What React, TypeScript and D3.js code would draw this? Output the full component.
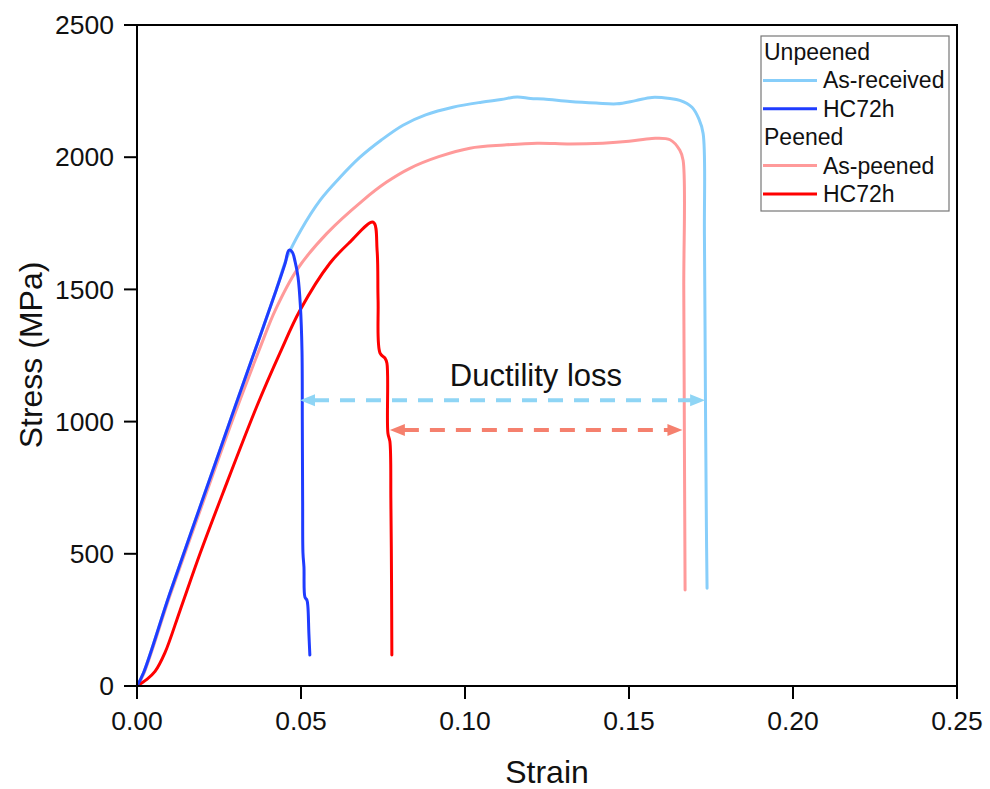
import React from 'react';
import * as d3 from 'd3';

// strain, stress (MPa)
const asReceived: [number, number][] = [
  [0, 0], [0.002, 50], [0.01, 350], [0.02, 705], [0.03, 1060], [0.038, 1340],
  [0.0425, 1500], [0.0457, 1620], [0.05, 1725], [0.0558, 1837], [0.062, 1925],
  [0.068, 2000], [0.0745, 2065], [0.0811, 2121], [0.088, 2160], [0.0963, 2189],
  [0.105, 2208], [0.111, 2218], [0.1159, 2228], [0.12, 2222], [0.124, 2220],
  [0.132, 2211], [0.14, 2205], [0.1463, 2202], [0.152, 2214], [0.157, 2226],
  [0.1625, 2222], [0.1655, 2215], [0.1692, 2189], [0.1713, 2145], [0.1726, 2090],
  [0.173, 1700], [0.1733, 1100], [0.1736, 600], [0.1738, 370],
];

const unpeenedHC: [number, number][] = [
  [0, 0], [0.002, 50], [0.01, 350], [0.02, 705], [0.03, 1060], [0.038, 1340],
  [0.0425, 1500], [0.0452, 1600], [0.0463, 1648], [0.0473, 1642], [0.0482, 1605],
  [0.0491, 1546], [0.0498, 1440], [0.0503, 1270], [0.0504, 1000], [0.0505, 700],
  [0.0506, 503], [0.0509, 450], [0.0512, 336], [0.0518, 325], [0.0521, 300],
  [0.0524, 200], [0.0527, 117],
];

const asPeened: [number, number][] = [
  [0, 0], [0.002, 45], [0.01, 340], [0.02, 690], [0.03, 1035], [0.038, 1295],
  [0.0421, 1420], [0.0488, 1575], [0.0579, 1712], [0.0689, 1837], [0.076, 1905],
  [0.0832, 1958], [0.092, 2002], [0.1015, 2034], [0.112, 2046], [0.122, 2053],
  [0.132, 2050], [0.142, 2053], [0.15, 2060], [0.157, 2071], [0.1625, 2066],
  [0.1655, 2026], [0.1665, 1988], [0.1667, 1500], [0.1669, 900], [0.1671, 363],
];

const peenedHC: [number, number][] = [
  [0, 0], [0.003, 25], [0.0055, 55], [0.0085, 125], [0.0131, 285], [0.0192, 500],
  [0.0262, 730], [0.0366, 1060], [0.0436, 1260], [0.0497, 1421], [0.0588, 1599],
  [0.065, 1680], [0.072, 1754], [0.0732, 1648], [0.0735, 1459], [0.0741, 1259],
  [0.0756, 1240], [0.0762, 1221], [0.0765, 956], [0.0771, 925], [0.0774, 703],
  [0.0776, 400], [0.0777, 117],
];

const xTicks = [0, 0.05, 0.1, 0.15, 0.2, 0.25];
const yTicks = [0, 500, 1000, 1500, 2000, 2500];

// ductility-loss arrows: [from strain, to strain, stress level]
const arrowUnpeened = [0.0497, 0.1732, 1081];
const arrowPeened = [0.0771, 0.1663, 968];

const legendGroups = [
  { title: 'Unpeened', items: [{ label: 'As-received', color: '#87cefa' }, { label: 'HC72h', color: '#1f3cff' }] },
  { title: 'Peened', items: [{ label: 'As-peened', color: '#ff9a9a' }, { label: 'HC72h', color: '#ff0000' }] },
];

const series = [
  { data: asPeened, color: '#ff9a9a' },
  { data: asReceived, color: '#87cefa' },
  { data: peenedHC, color: '#ff0000' },
  { data: unpeenedHC, color: '#1f3cff' },
];

const W = 990;
const H = 789;
const font = '"Liberation Sans", Arial, sans-serif';

export default function App() {
  const x = d3.scaleLinear().domain([0, 0.25]).range([137, 957]);
  const y = d3.scaleLinear().domain([0, 2500]).range([686, 25]);
  const line = d3.line<[number, number]>()
    .x(d => x(d[0]))
    .y(d => y(d[1]))
    .curve(d3.curveCatmullRom.alpha(0.5));

  const arrow = (a: number[], color: string, id: string) => {
    const x0 = x(a[0]);
    const x1 = x(a[1]);
    const yy = y(a[2]);
    return (
      <g key={id}>
        <line x1={x0 + 14} x2={x1 - 14} y1={yy} y2={yy} stroke={color} strokeWidth={4}
          strokeDasharray="15 11" />
        <path d={`M${x0},${yy} L${x0 + 15},${yy - 6} L${x0 + 15},${yy + 6} Z`} fill={color} />
        <path d={`M${x1},${yy} L${x1 - 15},${yy - 6} L${x1 - 15},${yy + 6} Z`} fill={color} />
      </g>
    );
  };

  let row = 0;
  const rowY = (i: number) => 52 + i * 28.4;

  return (
    <svg width={W} height={H} style={{ position: 'absolute', left: 0, top: 0, background: '#fff' }}
      fontFamily={font}>
      {series.map((s, i) => (
        <path key={i} d={line(s.data) || ''} fill="none" stroke={s.color} strokeWidth={3}
          strokeLinejoin="round" strokeLinecap="round" />
      ))}

      {arrow(arrowUnpeened, '#8fd5f5', 'a1')}
      {arrow(arrowPeened, '#f5806e', 'a2')}
      <text x={536} y={386} fontSize={31} textAnchor="middle" fill="#111">Ductility loss</text>

      {/* frame */}
      <rect x={137} y={25} width={820} height={661} fill="none" stroke="#000" strokeWidth={2} />

      {/* x axis ticks */}
      {xTicks.map(t => (
        <g key={t}>
          <line x1={x(t)} x2={x(t)} y1={686} y2={699} stroke="#000" strokeWidth={2} />
          <text x={x(t)} y={730} fontSize={26.5} textAnchor="middle" fill="#111">{t.toFixed(2)}</text>
        </g>
      ))}
      {/* y axis ticks */}
      {yTicks.map(t => (
        <g key={t}>
          <line x1={124} x2={137} y1={y(t)} y2={y(t)} stroke="#000" strokeWidth={2} />
          <text x={114} y={y(t)} dy="0.35em" fontSize={26.5} textAnchor="end" fill="#111">{t}</text>
        </g>
      ))}

      <text x={547} y={783} fontSize={32} textAnchor="middle" fill="#111">Strain</text>
      <text transform={`translate(42,355) rotate(-90)`} fontSize={32} textAnchor="middle" fill="#111">
        Stress (MPa)
      </text>

      {/* legend */}
      <rect x={761} y={36} width={188} height={175} fill="#fff" stroke="#777" strokeWidth={1.2} />
      {legendGroups.map(g => {
        const out: React.ReactNode[] = [];
        out.push(
          <text key={g.title} x={764} y={rowY(row)} dy="0.35em" fontSize={23} fill="#111">{g.title}</text>
        );
        row++;
        g.items.forEach(it => {
          const yy = rowY(row);
          out.push(
            <g key={g.title + it.label}>
              <line x1={763} x2={817} y1={yy} y2={yy} stroke={it.color} strokeWidth={3} />
              <text x={823} y={yy} dy="0.35em" fontSize={23} fill="#111">{it.label}</text>
            </g>
          );
          row++;
        });
        return out;
      })}
    </svg>
  );
}
